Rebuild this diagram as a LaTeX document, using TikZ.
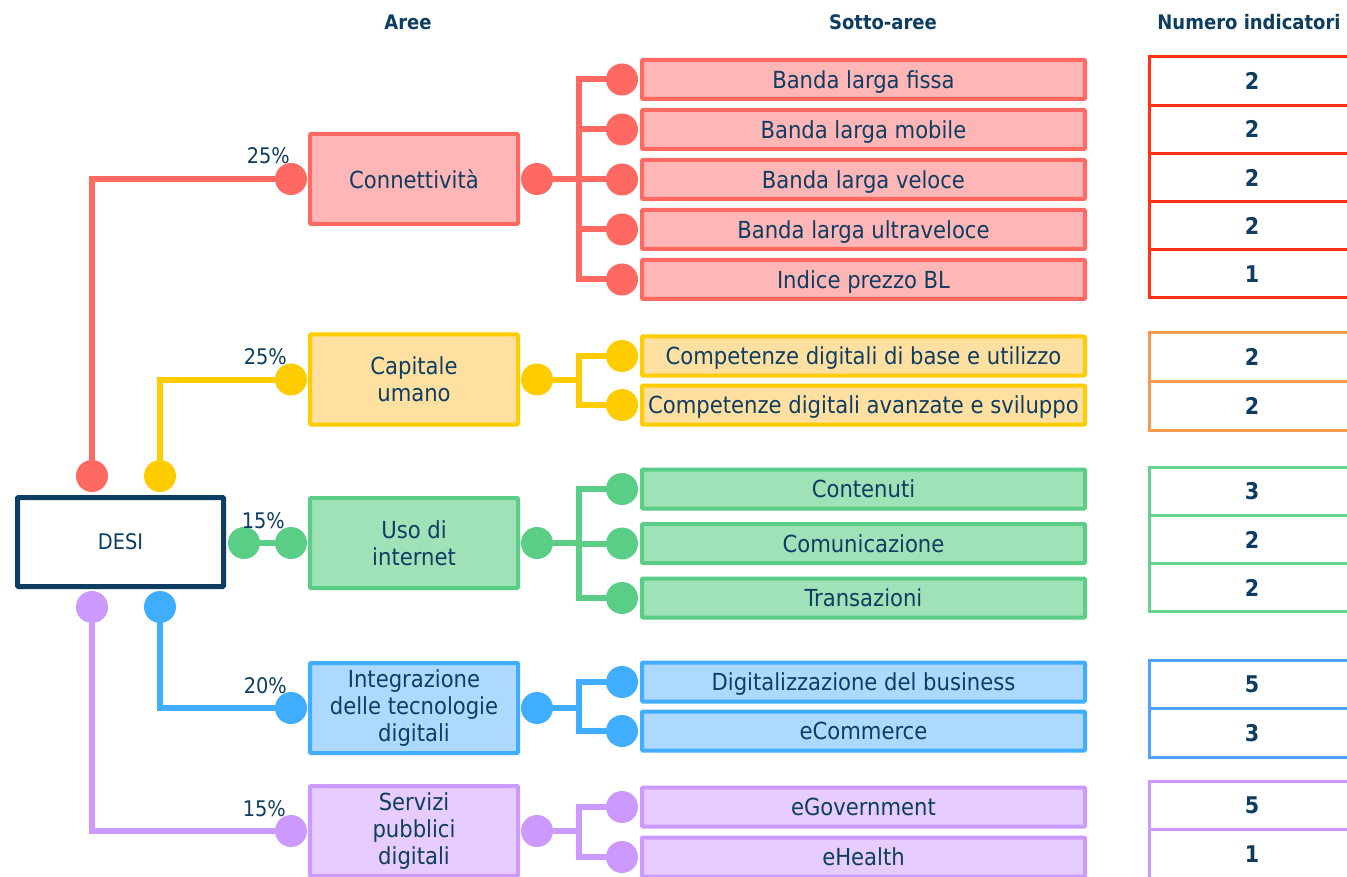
\documentclass[tikz,border=0pt]{standalone}
\usepackage{fontspec}
\setmainfont{DejaVu Sans Condensed}
\usetikzlibrary{calc}
\definecolor{navy}{HTML}{0E3D62}
\definecolor{redL}{HTML}{FF6961}\definecolor{redF}{HTML}{FFB6B6}
\definecolor{yelL}{HTML}{FFCC00}\definecolor{yelF}{HTML}{FFE0A0}
\definecolor{greL}{HTML}{5ACE87}\definecolor{greF}{HTML}{A0E2B8}
\definecolor{bluL}{HTML}{40ADFF}\definecolor{bluF}{HTML}{ADD8FF}
\definecolor{purL}{HTML}{CC99FF}\definecolor{purF}{HTML}{E6CCFF}
\definecolor{redT}{HTML}{FF3311}\definecolor{oraT}{HTML}{F79A50}
\definecolor{greT}{HTML}{66D08F}\definecolor{bluT}{HTML}{4DA3FF}
\definecolor{purT}{HTML}{CC99FF}
\begin{document}
\begin{tikzpicture}[x=1pt,y=-1pt,
  font=\fontsize{23.5}{27}\selectfont, text=navy,
  head/.style={font=\fontsize{20}{24}\selectfont\bfseries},
  desibox/.style={draw=navy, line width=5pt, fill=white, minimum width=206pt, minimum height=89pt, rounded corners=1pt, font=\fontsize{21.5}{26}\selectfont},
  area/.style={line width=4pt, minimum width=208pt, minimum height=90pt, align=center, inner sep=0pt, rounded corners=1pt},
  sub/.style={line width=4pt, minimum width=443pt, minimum height=39pt, inner sep=0pt, rounded corners=1pt, text depth=0pt},
  dot/.style={circle, inner sep=0pt, minimum size=32pt},
  conn/.style={line width=6pt},
  pct/.style={anchor=base east, inner sep=0pt, font=\fontsize{21.5}{26}\selectfont},
  cell/.style={line width=3pt, anchor=west, minimum width=206pt, inner sep=0pt, font=\fontsize{23}{27}\selectfont\bfseries}
]
\useasboundingbox (0,0) rectangle (1347,877);
\clip (0,0) rectangle (1347,877);
\fill[white] (0,0) rectangle (1347,877);

% headers
\node[head] (h1) at (408,22) {Aree};
\node[head] (h2) at (883,22) {Sotto-aree};
\node[head] (h3) at (1249,22) {Numero indicatori};

% DESI
\node[desibox] (desi) at (120.5,542) {DESI};
\node[dot, fill=redL] (dR) at (92,476) {};
\node[dot, fill=yelL] (dY) at (160,476) {};
\node[dot, fill=greL] (dG) at (244,543) {};
\node[dot, fill=bluL] (dB) at (160,607) {};
\node[dot, fill=purL] (dP) at (92,607) {};

% areas
\node[area, draw=redL, fill=redF] (aR) at (414,179) {Connettività};
\node[area, draw=yelL, fill=yelF] (aY) at (414,379.5) {Capitale\\umano};
\node[area, draw=greL, fill=greF] (aG) at (414,543) {Uso di\\internet};
\node[area, draw=bluL, fill=bluF] (aB) at (414,708) {Integrazione\\delle tecnologie\\digitali};
\node[area, draw=purL, fill=purF] (aP) at (414,831) {Servizi\\pubblici\\digitali};

\foreach \n/\c/\y in {R/redL/179,Y/yelL/379.5,G/greL/543,B/bluL/708,P/purL/831}{
  \node[dot, fill=\c] (a\n l) at (291,\y) {};
  \node[dot, fill=\c] (a\n r) at (537,\y) {};
  \coordinate (b\n) at (579,\y);
}

% percentages
\node[pct] (pR) at ([xshift=-1pt,yshift=15pt]aRl.center) {25\%};
\node[pct] (pY) at ([xshift=-4pt,yshift=15pt]aYl.center) {25\%};
\node[pct] (pG) at ([xshift=-6pt,yshift=15pt]aGl.center) {15\%};
\node[pct] (pB) at ([xshift=-4pt,yshift=15pt]aBl.center) {20\%};
\node[pct] (pP) at ([xshift=-5pt,yshift=15pt]aPl.center) {15\%};

% DESI connectors
\draw[conn, redL] (dR) |- (aRl);
\draw[conn, yelL] (dY) |- (aYl);
\draw[conn, greL] (dG) -- (aGl);
\draw[conn, bluL] (dB) |- (aBl);
\draw[conn, purL] (dP) |- (aPl);

% sub areas
\foreach \n/\c/\f/\y/\t in {
  R1/redL/redF/79.5/Banda larga fissa,
  R2/redL/redF/129.5/Banda larga mobile,
  R3/redL/redF/179.5/Banda larga veloce,
  R4/redL/redF/229.5/Banda larga ultraveloce,
  R5/redL/redF/279.5/Indice prezzo BL,
  Y1/yelL/yelF/356/Competenze digitali di base e utilizzo,
  Y2/yelL/yelF/405/Competenze digitali avanzate e sviluppo,
  G1/greL/greF/489/Contenuti,
  G2/greL/greF/543.5/Comunicazione,
  G3/greL/greF/598/Transazioni,
  B1/bluL/bluF/682/Digitalizzazione del business,
  B2/bluL/bluF/731/eCommerce,
  P1/purL/purF/807/eGovernment,
  P2/purL/purF/857/eHealth}{
  \node[sub, draw=\c, fill=\f] (s\n) at (863.5,\y) {\t};
  \node[dot, fill=\c] (d\n) at (622,\y) {};
}

% branch connectors
\foreach \n/\c/\k in {R/redL/5,Y/yelL/2,G/greL/3,B/bluL/2,P/purL/2}{
  \draw[conn, \c] (a\n r) -- (b\n);
  \foreach \i in {1,...,\k}{
    \draw[conn, \c, line join=miter] (b\n) |- (d\n\i);
  }
}

% indicator tables
\foreach \n/\c/\y/\h/\v in {
  R1/redT/81.1/48.2/2, R2/redT/129.3/48.2/2, R3/redT/177.5/48.2/2, R4/redT/225.7/48.2/2, R5/redT/273.9/48.2/1,
  Y1/oraT/357.25/48.5/2, Y2/oraT/405.75/48.5/2,
  G1/greT/491.2/48.3/3, G2/greT/539.5/48.3/2, G3/greT/587.8/48.3/2,
  B1/bluT/684.25/48.5/5, B2/bluT/732.75/48.5/3,
  P1/purT/805.25/48.5/5, P2/purT/853.75/48.5/1}{
  \node[cell, draw=\c, minimum height=\h pt] (t\n) at (1147.5,\y) {\v};
}
\end{tikzpicture}
\end{document}
